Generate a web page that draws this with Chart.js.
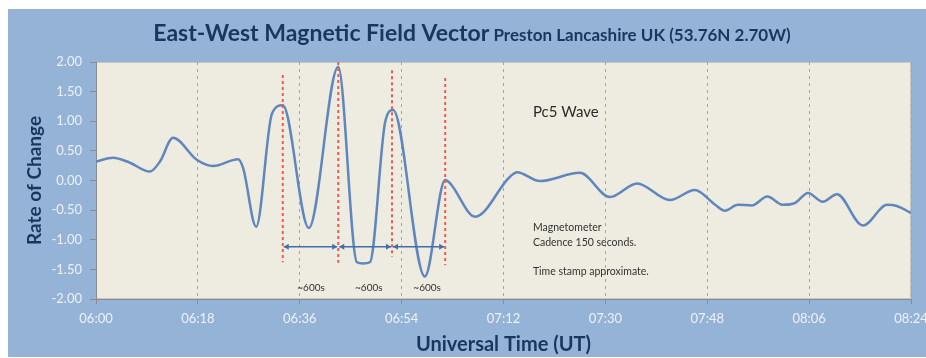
<!DOCTYPE html>
<html>
<head>
<meta charset="utf-8">
<script src="https://cdn.jsdelivr.net/npm/chart.js@4/dist/chart.umd.min.js"></script>
<style>
  html, body { margin: 0; padding: 0; background: #ffffff; }
  #frame { position: absolute; left: 8px; top: 9px; width: 918px; height: 348px; background: #95b3d7; }
  canvas { display: block; }
</style>
</head>
<body>
<div id="frame"><canvas id="magChart" width="918" height="348"></canvas></div>
<script>
// minutes after 06:00 UT and the rate of change read at each
const minutes = [0, 3.0, 6.0, 9.5, 11.3, 13.6, 17.8, 20.7, 25.1, 26.0,
  28.3, 31.1, 33.0, 37.6, 42.8, 46.1, 47.2, 48.4, 51.1, 52.5,
  58.1, 61.7, 62.5, 67.0, 73.1, 74.4, 78.4, 85.5, 90.8, 95.6,
  101.4, 105.8, 109.4, 111.1, 113.4, 115.9, 118.6, 121.4, 123.5, 125.8,
  128.4, 130.9, 135.5, 139.8, 141.5, 144];
const rateOfChange = [0.32, 0.385, 0.30, 0.15, 0.32, 0.72, 0.35, 0.245, 0.36, 0.21,
  -0.78, 1.13, 1.27, -0.80, 1.92, -1.38, -1.40, -1.38, 0.99, 1.19,
  -1.62, 0.01, -0.04, -0.61, 0.06, 0.14, -0.01, 0.13, -0.28, -0.05,
  -0.33, -0.16, -0.41, -0.51, -0.41, -0.42, -0.27, -0.41, -0.38, -0.21,
  -0.36, -0.23, -0.76, -0.41, -0.43, -0.55];

// Pc5 pulse markers (red dashed) and the ~600s spacing between them
const pulseTimes = [33.0, 42.8, 52.3, 61.7];
const pulseTop = [1.78, 2.0, 1.86, 1.73];
const pulseBottom = [-1.38, -1.39, -1.29, -1.43];
const spanLevel = -1.12;
const spanLabels = ["~600s", "~600s", "~600s"];
const spanLabelTimes = [38.0, 48.2, 58.5];
const spanLabelLevel = -1.81;

const xTicks = [0, 18, 36, 54, 72, 90, 108, 126, 144];
const yTicks = [-2, -1.5, -1, -0.5, 0, 0.5, 1, 1.5, 2];

const noteLines = ["Magnetometer", "Cadence 150 seconds.", "Time stamp approximate."];
const noteOffsets = [0, 15, 44];

const navy = "#17375e";

const fmtTime = m => {
  const t = 360 + m;
  const h = Math.floor(t / 60), mm = Math.round(t % 60);
  return String(h).padStart(2, "0") + ":" + String(mm).padStart(2, "0");
};

const pulseSets = pulseTimes.map((t, i) => ({
  data: [{x: t, y: pulseTop[i]}, {x: t, y: pulseBottom[i]}],
  borderColor: "#ef5a52",
  borderWidth: 2,
  borderDash: [3, 3],
  pointRadius: 0,
  order: 1
}));

const plotBack = {
  id: "plotBack",
  beforeDraw(chart) {
    const {ctx, chartArea: a} = chart;
    ctx.save();
    ctx.fillStyle = "#eeece1";
    ctx.fillRect(a.left, a.top, a.right - a.left, a.bottom - a.top);
    ctx.strokeStyle = "#c9c7bd";
    ctx.lineWidth = 1;
    ctx.strokeRect(a.left + 0.5, a.top + 0.5, a.right - a.left - 1, a.bottom - a.top - 1);
    ctx.restore();
  }
};

const arrowHead = (ctx, x, y, dir) => {
  ctx.beginPath();
  ctx.moveTo(x, y);
  ctx.lineTo(x - dir * 5, y - 3);
  ctx.lineTo(x - dir * 5, y + 3);
  ctx.closePath();
  ctx.fill();
};

const texts = {
  id: "texts",
  afterDraw(chart) {
    const {ctx, chartArea: a, scales: {x, y}} = chart;
    ctx.save();

    // spacing arrows between pulse markers
    const yy = y.getPixelForValue(spanLevel);
    ctx.strokeStyle = "#3f6fa8";
    ctx.fillStyle = "#3f6fa8";
    ctx.lineWidth = 1.5;
    for (let i = 0; i < pulseTimes.length - 1; i++) {
      const x0 = x.getPixelForValue(pulseTimes[i]) + 1;
      const x1 = x.getPixelForValue(pulseTimes[i + 1]) - 1;
      ctx.beginPath();
      ctx.moveTo(x0, yy);
      ctx.lineTo(x1, yy);
      ctx.stroke();
      arrowHead(ctx, x0, yy, -1);
      arrowHead(ctx, x1, yy, 1);
    }

    ctx.fillStyle = "#333333";
    ctx.font = "10px Lato";
    ctx.textAlign = "center";
    ctx.textBaseline = "middle";
    spanLabels.forEach((s, i) => {
      ctx.fillText(s, x.getPixelForValue(spanLabelTimes[i]), y.getPixelForValue(spanLabelLevel));
    });

    ctx.textAlign = "left";
    ctx.font = "15px Lato";
    ctx.fillStyle = "#2b2b2b";
    ctx.fillText("Pc5 Wave", x.getPixelForValue(77.2), y.getPixelForValue(1.16));

    ctx.font = "10.5px Lato";
    ctx.fillStyle = "#333333";
    const noteTop = y.getPixelForValue(-0.80);
    noteLines.forEach((s, i) => {
      ctx.fillText(s, x.getPixelForValue(77.2), noteTop + noteOffsets[i]);
    });

    // axis titles
    ctx.fillStyle = navy;
    ctx.font = "bold 20px Lato";
    ctx.textAlign = "center";
    ctx.fillText("Universal Time (UT)", (a.left + a.right) / 2, 336);
    ctx.save();
    ctx.translate(27, (a.top + a.bottom) / 2);
    ctx.rotate(-Math.PI / 2);
    ctx.font = "bold 19px Lato";
    ctx.fillText("Rate of Change", 0, 0);
    ctx.restore();

    // chart title in two sizes
    const main = "East-West Magnetic Field Vector";
    const sub = " Preston Lancashire UK (53.76N 2.70W)";
    ctx.textBaseline = "alphabetic";
    ctx.textAlign = "left";
    ctx.font = "bold 23px Lato";
    const w1 = ctx.measureText(main).width;
    ctx.font = "bold 17px Lato";
    const w2 = ctx.measureText(sub).width;
    const start = 464 - (w1 + w2) / 2;
    ctx.font = "bold 23px Lato";
    ctx.fillText(main, start, 32);
    ctx.font = "bold 17px Lato";
    ctx.fillText(sub, start + w1, 32);

    ctx.restore();
  }
};

new Chart(document.getElementById("magChart"), {
  type: "line",
  data: {
    datasets: [
      {
        data: minutes.map((m, i) => ({x: m, y: rateOfChange[i]})),
        borderColor: "#5f87bd",
        borderWidth: 2.5,
        pointRadius: 0,
        cubicInterpolationMode: "monotone",
        order: 2
      },
      ...pulseSets
    ]
  },
  options: {
    responsive: false,
    animation: false,
    devicePixelRatio: 1,
    layout: { autoPadding: false, padding: { top: 53, right: 15, left: 0, bottom: 0 } },
    plugins: { legend: { display: false }, tooltip: { enabled: false } },
    scales: {
      x: {
        type: "linear",
        min: 0,
        max: 144,
        afterFit: s => { s.height = 58; s.paddingLeft = 0; s.paddingRight = 0; },
        afterBuildTicks: s => { s.ticks = xTicks.map(v => ({value: v})); },
        ticks: {
          callback: v => fmtTime(v),
          color: "#eef2f8",
          font: { family: "Lato", size: 13 },
          padding: 7,
          maxRotation: 0
        },
        grid: {
          color: "#a4a4a4",
          lineWidth: 1,
          tickLength: 5,
          tickColor: "#8c8c8c",
          tickBorderDash: []
        },
        border: { display: true, color: "#8c8c8c", dash: [3, 4] }
      },
      y: {
        min: -2,
        max: 2,
        afterFit: s => { s.width = 88; s.paddingTop = 0; s.paddingBottom = 0; },
        afterBuildTicks: s => { s.ticks = yTicks.map(v => ({value: v})); },
        ticks: {
          callback: v => v.toFixed(2),
          color: "#eef2f8",
          font: { family: "Lato", size: 13 },
          padding: 8
        },
        grid: {
          drawOnChartArea: false,
          tickLength: 6,
          tickColor: "#8c8c8c"
        },
        border: { display: true, color: "#8c8c8c" }
      }
    }
  },
  plugins: [plotBack, texts]
});
</script>
</body>
</html>
